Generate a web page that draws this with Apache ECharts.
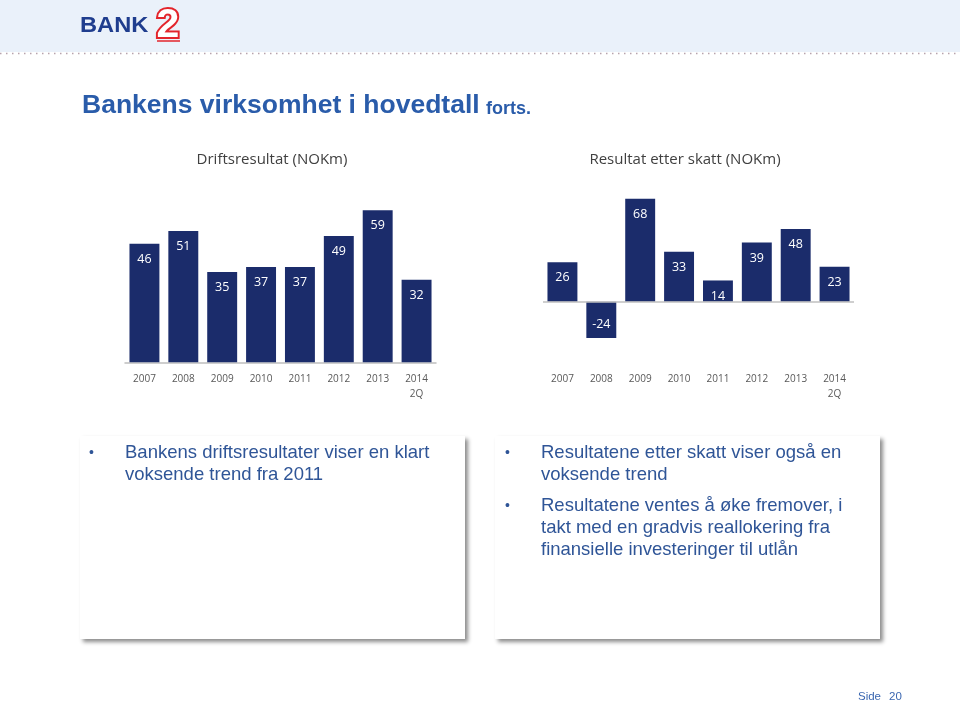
<!DOCTYPE html>
<html>
<head>
<meta charset="utf-8">
<script src="https://cdn.jsdelivr.net/npm/echarts@6/dist/echarts.min.js"></script>
<style>
html,body{margin:0;padding:0;background:#fff;}
#chart{width:960px;height:702px;}
</style>
</head>
<body>
<div id="chart"></div>
<script>
var categories = ['2007','2008','2009','2010','2011','2012','2013','2014\n2Q'];
var driftsresultat = [46,51,35,37,37,49,59,32];
var resultatEtterSkatt = [26,-24,68,33,14,39,48,23];
var chartTitles = ['Driftsresultat (NOKm)','Resultat etter skatt (NOKm)'];
var leftBullets = ['Bankens driftsresultater viser en klart\nvoksende trend fra 2011'];
var rightBullets = ['Resultatene etter skatt viser også en\nvoksende trend','Resultatene ventes å øke fremover, i\ntakt med en gradvis reallokering fra\nfinansielle investeringer til utlån'];

var BAR = '#1b2c6b';
var TXT = '#2f5597';
var chart = echarts.init(document.getElementById('chart'));

var labelStyle = {show:true, position:'insideTop', distance:9, color:'#fff', fontFamily:'Open Sans', fontSize:12.5};
var axisLabelStyle = {color:'#595959', fontFamily:'Open Sans', fontSize:10, margin:9, lineHeight:15, interval:0};

var graphics = [
  {type:'rect', shape:{x:0,y:0,width:960,height:52}, style:{fill:'#eaf1fa'}, z:-10},
  {type:'line', shape:{x1:0,y1:53.5,x2:960,y2:53.5}, style:{stroke:'#b8a3ad', lineWidth:1.5, lineDash:[1.5,4.5]}, z:-9},
  {type:'text', x:80, y:26.5, scaleX:1.1, style:{text:'BANK', fill:'#1f3d8e', font:'bold 21.5px "Liberation Sans", Arial', verticalAlign:'middle'}},
  {type:'text', x:156.5, y:25.5, style:{text:'2', fill:'#fff', stroke:'#e3242b', lineWidth:4, font:'bold 41px "Liberation Sans", Arial', verticalAlign:'middle'}},
  {type:'line', shape:{x1:157,y1:41,x2:180,y2:41}, style:{stroke:'#e3242b', lineWidth:1.5}},
  {type:'text', x:82, y:104, style:{text:'{a|Bankens virksomhet i hovedtall} {b|forts.}', verticalAlign:'middle',
     rich:{a:{fill:'#2a5caa', font:'bold 26.5px "Liberation Sans", Arial', verticalAlign:'bottom', lineHeight:30},
           b:{fill:'#2a5caa', font:'bold 18px "Liberation Sans", Arial', verticalAlign:'bottom', lineHeight:30, padding:[0,0,1,3]}}}},
  {type:'text', x:272, y:160, style:{text:chartTitles[0], fill:'#404040', font:'15px "Open Sans"', align:'center', verticalAlign:'middle'}},
  {type:'text', x:685, y:160, style:{text:chartTitles[1], fill:'#404040', font:'15px "Open Sans"', align:'center', verticalAlign:'middle'}},
  {type:'rect', shape:{x:80,y:436,width:385,height:203}, style:{fill:'#fff', shadowBlur:4, shadowOffsetX:3, shadowOffsetY:3, shadowColor:'rgba(0,0,0,0.45)'}, z:-5},
  {type:'rect', shape:{x:495,y:436,width:385,height:203}, style:{fill:'#fff', shadowBlur:4, shadowOffsetX:3, shadowOffsetY:3, shadowColor:'rgba(0,0,0,0.45)'}, z:-5},
  {type:'text', x:858, y:697, style:{text:'Side', fill:'#3b67b1', font:'11.5px "Liberation Sans", Arial', verticalAlign:'middle'}},
  {type:'text', x:889, y:697, style:{text:'20', fill:'#3b67b1', font:'11.5px "Liberation Sans", Arial', verticalAlign:'middle'}}
];

function addBullets(list, bx, tx, y0) {
  var y = y0;
  list.forEach(function (t) {
    var n = t.split('\n').length;
    graphics.push({type:'text', x:bx, y:y, style:{text:'•', fill:TXT, font:'14px "Liberation Sans", Arial', verticalAlign:'middle'}});
    graphics.push({type:'text', x:tx, y:y - 11, style:{text:t, fill:TXT, font:'18.5px "Liberation Sans", Arial', lineHeight:22, verticalAlign:'top'}});
    y += n * 22 + 9;
  });
}
addBullets(leftBullets, 89, 125, 453);
addBullets(rightBullets, 505, 541, 453);

chart.setOption({
  animation:false,
  backgroundColor:'#fff',
  grid:[
    {left:125, top:207.7, width:311, height:154.6},
    {left:543, top:195.6, width:311, height:166.7}
  ],
  xAxis:[
    {type:'category', gridIndex:0, data:categories, axisTick:{show:false},
     axisLine:{lineStyle:{color:'#bfbfbf', width:1.5}}, axisLabel:axisLabelStyle},
    {type:'category', gridIndex:1, data:categories, axisTick:{show:false},
     axisLine:{show:false, onZero:false}, axisLabel:axisLabelStyle}
  ],
  yAxis:[
    {type:'value', gridIndex:0, min:0, max:60, show:false, splitLine:{show:false}},
    {type:'value', gridIndex:1, min:-40, max:70, show:false, splitLine:{show:false}}
  ],
  series:[
    {type:'bar', xAxisIndex:0, yAxisIndex:0, data:driftsresultat, barWidth:'77%',
     itemStyle:{color:BAR}, label:labelStyle},
    {type:'bar', xAxisIndex:1, yAxisIndex:1, barWidth:'77%',
     data:resultatEtterSkatt.map(function(v){ return v < 0 ? {value:v, label:{position:'insideBottom', distance:7}} : v; }),
     itemStyle:{color:BAR}, label:labelStyle,
     markLine:{silent:true, symbol:['none','none'], label:{show:false},
       lineStyle:{color:'#bfbfbf', width:1.5, type:'solid'}, data:[{yAxis:0}]}}
  ],
  graphic:graphics
});
</script>
</body>
</html>
